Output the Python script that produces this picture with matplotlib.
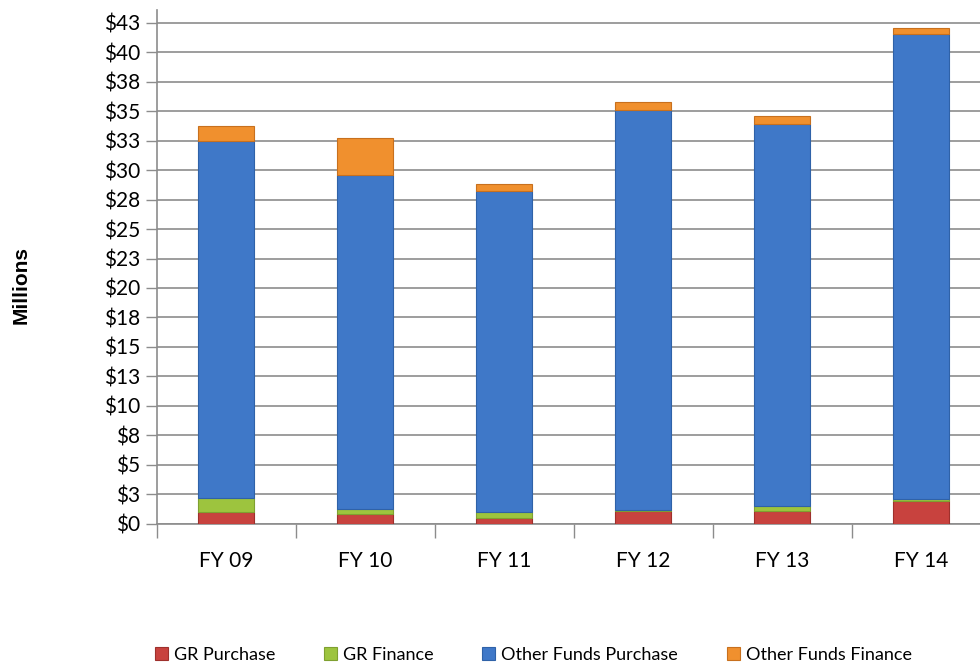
import matplotlib
matplotlib.use("Agg")
import matplotlib.pyplot as plt
import numpy as np

categories = ["FY 09", "FY 10", "FY 11", "FY 12", "FY 13", "FY 14"]
gr_purchase = [1.0, 0.8, 0.5, 1.05, 1.05, 1.95]
gr_finance = [1.2, 0.4, 0.45, 0.1, 0.45, 0.1]
other_purchase = [30.3, 28.4, 27.3, 33.95, 32.4, 39.55]
other_finance = [1.25, 3.1, 0.55, 0.7, 0.7, 0.5]
series_names = ["GR Purchase", "GR Finance", "Other Funds Purchase", "Other Funds Finance"]
ytick_values = [0, 2.5, 5, 7.5, 10, 12.5, 15, 17.5, 20, 22.5, 25, 27.5, 30, 32.5, 35, 37.5, 40, 42.5]
ytick_labels = ["$0", "$3", "$5", "$8", "$10", "$13", "$15", "$18", "$20", "$23", "$25",
                "$28", "$30", "$33", "$35", "$38", "$40", "$43"]

colors = ["#C8423E", "#9DC43E", "#3F78C8", "#F0902E"]
edges = ["#9E302C", "#7FA030", "#2F62A8", "#C8701E"]

plt.rcParams['font.family'] = ['Lato', 'DejaVu Sans']

fig = plt.figure(figsize=(9.8, 6.69), dpi=100)
ax = fig.add_axes([156.5 / 980, 1 - 523.5 / 669, (990.5 - 156.5) / 980, (523.5 - 10) / 669])

x = np.arange(len(categories))
width = 0.41
bottom = np.zeros(len(categories))
handles = []
for vals, name, c, e in zip([gr_purchase, gr_finance, other_purchase, other_finance],
                            series_names, colors, edges):
    vals = np.array(vals)
    b = ax.bar(x, vals, width, bottom=bottom, color=c, edgecolor=e, linewidth=0.8,
               label=name, zorder=3)
    handles.append(b)
    bottom += vals

ax.set_xlim(-0.5, len(categories) - 0.5)
ax.set_ylim(0, 43.6)
ax.set_yticks(ytick_values)
ax.set_yticklabels(ytick_labels, fontsize=15)
ax.set_xticks(x)
ax.set_xticklabels(categories, fontsize=15)
ax.set_xticks(np.arange(len(categories) + 1) - 0.5, minor=True)
ax.tick_params(axis='x', which='major', length=0, pad=20)
ax.tick_params(axis='x', which='minor', length=10, width=1, color="#8C8C8C", direction='out')
ax.tick_params(axis='y', length=8, width=1, color="#8C8C8C", pad=4)
ax.grid(axis='y', color="#8C8C8C", linewidth=1.2, zorder=0)
for s in ["top", "right"]:
    ax.spines[s].set_visible(False)
ax.spines["left"].set_color("#8C8C8C")
ax.spines["bottom"].set_color("#8C8C8C")
ax.spines["left"].set_linewidth(1.2)
ax.spines["bottom"].set_linewidth(1.2)

fig.text(21 / 980, 1 - 285 / 669, "Millions", rotation=90, ha='center', va='center',
         fontsize=15, fontweight='bold', family=['Liberation Sans', 'DejaVu Sans'])

leg = fig.legend(handles=handles, labels=series_names, loc='center left',
                 bbox_to_anchor=(155 / 980, 1 - 655 / 669), ncol=4, frameon=False,
                 fontsize=13, handlelength=0.7, handleheight=0.7, handletextpad=0.35,
                 columnspacing=2.7, borderpad=0, borderaxespad=0)

fig.savefig("out.png", dpi=100)
